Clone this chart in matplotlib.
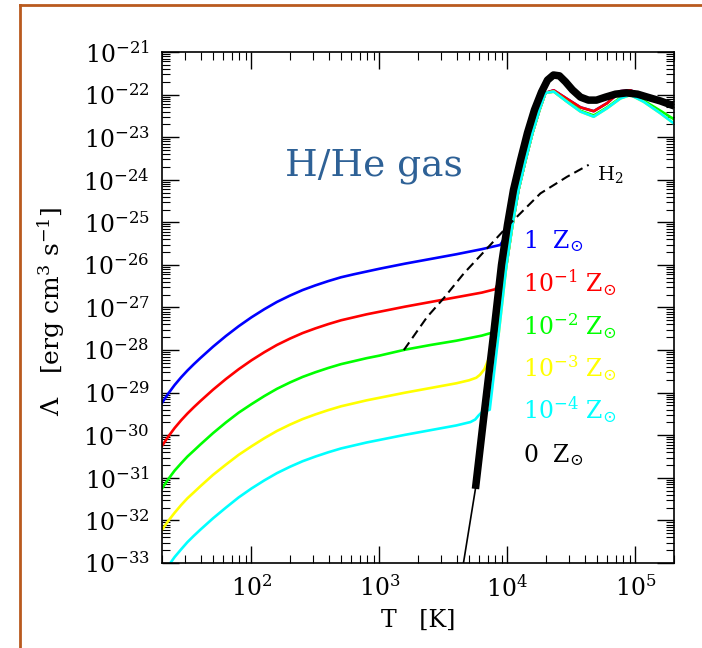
import numpy as np
import matplotlib
matplotlib.use('Agg')
from matplotlib import pyplot as plt
from matplotlib import ticker
from matplotlib.lines import Line2D

plt.rcParams['font.family'] = 'DejaVu Serif'
plt.rcParams['mathtext.fontset'] = 'dejavuserif'

# cooling function: log10(Lambda) vs T [K]
# low temperature part (metal line cooling), common T grid
T_frio = [20, 22.4, 25.1, 28.2, 31.6, 35.5, 39.8, 50.1, 63.1, 79.4, 100, 126, 158, 200,
          251, 316, 398, 501, 631, 794, 1000, 1585, 2512, 3981]
L_blue = [-29.24, -29.02, -28.82, -28.64, -28.48, -28.33, -28.19, -27.92, -27.67, -27.44, -27.23, -27.04,
          -26.87, -26.72, -26.59, -26.48, -26.38, -26.29, -26.22, -26.155, -26.09, -25.97, -25.86, -25.75]
L_red = [-30.25, -30.03, -29.83, -29.65, -29.49, -29.34, -29.20, -28.93, -28.68, -28.45, -28.24, -28.05,
         -27.88, -27.73, -27.60, -27.49, -27.39, -27.30, -27.23, -27.16, -27.10, -26.98, -26.87, -26.76]
L_green = [-31.25, -31.03, -30.83, -30.66, -30.50, -30.36, -30.22, -29.95, -29.70, -29.47, -29.27, -29.08,
           -28.91, -28.76, -28.63, -28.52, -28.42, -28.33, -28.26, -28.19, -28.13, -27.99, -27.88, -27.78]
L_yellow = [-32.22, -32.01, -31.82, -31.64, -31.48, -31.34, -31.20, -30.93, -30.69, -30.46, -30.26, -30.07,
            -29.90, -29.75, -29.62, -29.51, -29.41, -29.32, -29.25, -29.18, -29.12, -29.00, -28.89, -28.78]
L_cyan = [-33.30, -33.07, -32.86, -32.68, -32.51, -32.36, -32.22, -31.95, -31.70, -31.46, -31.25, -31.06,
          -30.89, -30.74, -30.61, -30.50, -30.40, -30.31, -30.24, -30.17, -30.11, -29.99, -29.88, -29.77]

# end of each curve before it turns up
T_cola_blue, L_cola_blue = [6310, 8800], [-25.63, -25.53]
T_cola_red, L_cola_red = [6310, 8050], [-26.65, -26.57]
T_cola_green, L_cola_green = [6310, 7400, 8300], [-27.66, -27.60, -27.56]
T_cola_yellow, L_cola_yellow = [5000, 5700, 6100, 6600], [-28.71, -28.65, -28.58, -28.45]
T_cola_cyan, L_cola_cyan = [5140, 5600, 5930, 6300, 7270], [-29.69, -29.63, -29.54, -29.46, -29.40]

# steep rise where H/He takes over (shared by all metal curves)
T_rise = [6150, 7110, 8510, 9820, 10940, 12190, 13840, 15680, 17780, 19800]
L_rise = [-31.26, -29.64, -27.65, -26.00, -25.06, -24.24, -23.54, -22.90, -22.36, -21.96]

# hot branch above the peak
T_hot = [23000, 29200, 37200, 47200, 60100, 76400, 91400, 116000, 156700, 200000]
L_hot_red = [-21.90, -22.10, -22.30, -22.39, -22.20, -21.92, -21.90, -22.03, -22.16, -22.28]
L_hot_green = [-21.93, -22.16, -22.38, -22.49, -22.30, -22.07, -21.99, -22.14, -22.38, -22.58]
L_hot_cyan = [-21.93, -22.17, -22.40, -22.52, -22.32, -22.09, -22.01, -22.17, -22.44, -22.68]

# primordial gas (0 Z_sun)
T_zero = [4475, 5620, 6490, 7780, 8980, 10000, 11140, 12650, 14330, 16250, 18450, 20540, 22870,
          25470, 28400, 32200, 37200, 42900, 49600, 58300, 69800, 85100, 103800, 124000, 156700, 201800]
L_zero = [-33.1, -31.26, -29.64, -27.65, -26.00, -25.06, -24.24, -23.54, -22.90, -22.36, -21.94, -21.66, -21.54,
          -21.56, -21.70, -21.89, -22.06, -22.13, -22.13, -22.06, -21.99, -21.96, -21.99, -22.06, -22.15, -22.27]

# H2 cooling
T_h2 = [1550, 2360, 3180, 4560, 6940, 10400, 18100, 29200, 43100]
L_h2 = [-28.00, -27.22, -26.78, -26.20, -25.61, -25.04, -24.32, -23.93, -23.65]

labels = [r'$1\ \ \mathrm{Z}_{\odot}$', r'$10^{-1}\ \mathrm{Z}_{\odot}$', r'$10^{-2}\ \mathrm{Z}_{\odot}$',
          r'$10^{-3}\ \mathrm{Z}_{\odot}$', r'$10^{-4}\ \mathrm{Z}_{\odot}$', r'$0\ \ \mathrm{Z}_{\odot}$']
colores = ['#0000ff', '#ff0000', '#00ff00', '#ffff00', '#00ffff', 'black']
L_lab = [-25.60, -26.63, -27.64, -28.63, -29.61, -30.63]
T_lab = 1.33e4

# decades that get a label
ticks_T = [1e2, 1e3, 1e4, 1e5]
ticks_L = [10.0**k for k in range(-33, -20)]

curvas = [(L_blue, T_cola_blue, L_cola_blue, L_hot_red),
          (L_red, T_cola_red, L_cola_red, L_hot_red),
          (L_green, T_cola_green, L_cola_green, L_hot_green),
          (L_yellow, T_cola_yellow, L_cola_yellow, L_hot_cyan),
          (L_cyan, T_cola_cyan, L_cola_cyan, L_hot_cyan)]

fig = plt.figure(figsize=(7.02, 6.48), dpi=100)
ax = fig.add_axes([162/702, 1-563/648, 512/702, 511/648])

for (L, Tc, Lc, Lh), c in zip(curvas, colores):
    sube = [i for i in range(len(L_rise)) if L_rise[i] > Lc[-1]]
    TT = T_frio + Tc + [T_rise[i] for i in sube] + T_hot
    LL = L + Lc + [L_rise[i] for i in sube] + Lh
    ax.plot(TT, 10**np.array(LL), color=c, lw=1.9)

ax.plot(T_h2, 10**np.array(L_h2), color='black', lw=1.5, dashes=[4.5, 2.5])

ax.plot(T_zero, 10**np.array(L_zero), color='black', lw=1.2)
ax.plot(T_zero[1:], 10**np.array(L_zero[1:]), color='black', lw=5.4,
        solid_capstyle='butt', solid_joinstyle='round')

for lab, c, l in zip(labels, colores, L_lab):
    ax.text(T_lab, 10**l, lab, color=c, fontsize=17, ha='left', va='baseline')

ax.text(50500, 10**-24.0, r'H$_2$', fontsize=14, ha='left', va='baseline')
ax.text(184, 10**-23.91, 'H/He gas', fontsize=27, color='#2e6196', ha='left', va='baseline')

ax.set_xscale('log')
ax.set_yscale('log')
ax.set_xlim(20, 2e5)
ax.set_ylim(1e-33, 1e-21)
ax.xaxis.set_major_locator(ticker.FixedLocator(ticks_T))
ax.yaxis.set_major_locator(ticker.FixedLocator(ticks_L))
for eje in (ax.xaxis, ax.yaxis):
    eje.set_major_formatter(ticker.LogFormatterSciNotation())
    eje.set_minor_locator(ticker.LogLocator(base=10, subs=np.arange(2, 10), numticks=20))
    eje.set_minor_formatter(ticker.NullFormatter())
ax.tick_params(which='both', direction='in', top=True, right=True, labelsize=17, pad=9)
ax.tick_params(which='major', length=12, width=1)
ax.tick_params(which='minor', length=6, width=0.8)
for s in ax.spines.values():
    s.set_linewidth(1.2)

ax.set_xlabel('T   [K]', fontsize=17)
ax.set_ylabel(r'$\Lambda$   [erg cm$^{3}$ s$^{-1}$]', fontsize=18)
ax.xaxis.set_label_coords(0.5, -0.09)
ax.yaxis.set_label_coords(-0.185, 0.493)

# marco del panel
fig.add_artist(Line2D([20/702, 1], [1-5/648, 1-5/648], transform=fig.transFigure, color='#b95a1e', lw=2))
fig.add_artist(Line2D([20/702, 20/702], [0, 1-5/648], transform=fig.transFigure, color='#b95a1e', lw=2))

plt.savefig('out.png', dpi=100)
